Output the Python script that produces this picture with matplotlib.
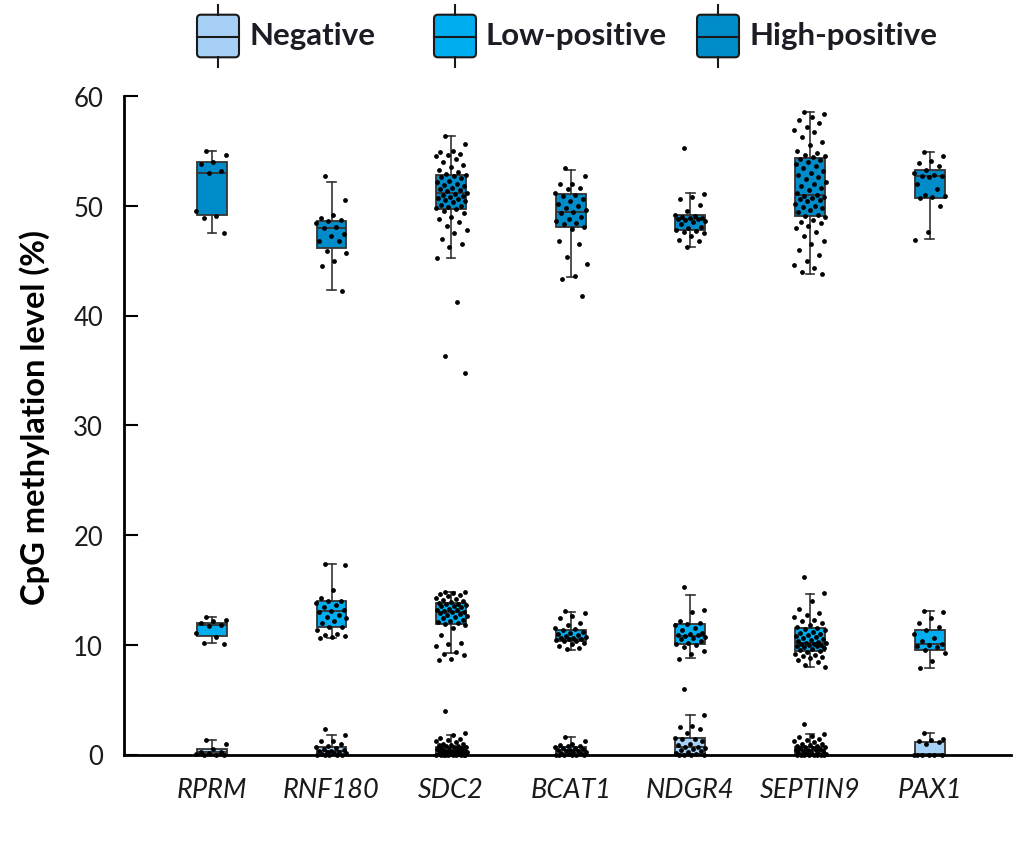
import matplotlib
matplotlib.use("Agg")
import matplotlib.pyplot as plt
from matplotlib.patches import FancyBboxPatch
import numpy as np

plt.rcParams['font.family'] = ['Lato', 'DejaVu Sans']

genes = ["RPRM", "RNF180", "SDC2", "BCAT1", "NDGR4", "SEPTIN9", "PAX1"]
groups = ["Negative", "Low-positive", "High-positive"]
colors = ["#A6D0F5", "#00AEEF", "#008CC8"]

# ---- box statistics (per gene) ----
neg_q1 = [0.05, 0.0, 0.0, 0.0, 0.05, 0.05, 0.0]
neg_med = [0.23, 0.35, 0.35, 0.44, 0.72, 0.38, 0.02]
neg_q3 = [0.5, 0.72, 0.65, 0.72, 1.47, 0.65, 1.1]
neg_lo = [0.0, 0.0, 0.0, 0.0, 0.0, 0.0, 0.0]
neg_hi = [1.35, 1.78, 1.75, 1.63, 3.6, 1.84, 2.0]

low_q1 = [10.83, 11.6, 11.9, 10.3, 10.1, 9.4, 9.5]
low_med = [11.8, 13.05, 12.96, 10.55, 10.78, 10.13, 10.04]
low_q3 = [11.99, 13.96, 13.78, 11.35, 11.87, 11.53, 11.38]
low_lo = [10.13, 10.6, 9.22, 9.52, 8.77, 8.0, 7.86]
low_hi = [12.53, 17.4, 14.78, 12.96, 14.54, 14.66, 13.08]

high_q1 = [49.2, 46.14, 49.73, 48.1, 47.75, 49.1, 50.7]
high_med = [53.0, 48.0, 51.16, 49.4, 48.76, 50.94, 52.7]
high_q3 = [54.0, 48.57, 52.77, 51.1, 49.18, 54.35, 53.3]
high_lo = [47.5, 42.3, 45.2, 43.5, 46.2, 43.8, 46.93]
high_hi = [54.95, 52.2, 56.4, 53.3, 51.2, 58.5, 54.9]

# ---- individual samples ----
RPRM_neg = [1.33, 0.93, 0.5, 0.25, 0.2, 0.1, 0.05, 0, 0, 0]
RPRM_low = [12.5, 12.3, 12.2, 11.95, 11.8, 11.7, 11.1, 10.75, 10.2, 10.1]
RPRM_high = [54.95, 54.65, 54.0, 53.8, 53.2, 53.0, 49.5, 49.1, 48.9, 47.5]

RNF180_neg = [2.3, 1.75, 1.2, 1.2, 0.95, 0.8, 0.7, 0.6, 0.5, 0.4, 0.35, 0.3,
              0.25, 0.2, 0.15, 0.1, 0.05, 0, 0, 0, 0, 0]
RNF180_low = [17.4, 17.3, 15.0, 14.3, 14.0, 13.95, 13.8, 13.6, 13.4, 13.2, 13.1,
              13.0, 12.7, 12.5, 12.4, 12.2, 12.0, 11.6, 11.6, 11.3, 11.0, 10.9,
              10.8, 10.7, 10.6]
RNF180_high = [52.7, 50.5, 49.2, 48.85, 48.7, 48.6, 48.4, 48.1, 48.0, 47.4, 47.2,
               46.8, 46.8, 45.9, 45.7, 45.0, 44.5, 42.2]

SDC2_neg = [3.94, 2.0, 1.75, 1.5, 1.4, 1.3, 1.2, 1.1, 1.0, 1.0, 0.9, 0.85, 0.8,
            0.75, 0.7, 0.65, 0.6, 0.55, 0.5, 0.5, 0.45, 0.4, 0.4, 0.35, 0.3, 0.3,
            0.25, 0.2, 0.2, 0.15, 0.1, 0.1, 0.05, 0.05, 0, 0, 0, 0, 0, 0, 0, 0,
            0, 0]
SDC2_low = [14.8, 14.8, 14.7, 14.6, 14.5, 14.4, 14.3, 14.2, 14.1, 14.0, 13.9,
            13.8, 13.7, 13.7, 13.6, 13.5, 13.5, 13.4, 13.3, 13.2, 13.2, 13.1,
            13.0, 13.0, 12.9, 12.8, 12.7, 12.6, 12.5, 12.4, 12.3, 12.2, 12.1,
            12.0, 11.9, 11.8, 11.5, 10.9, 10.2, 10.1, 9.9, 9.3, 9.2, 9.1, 8.7,
            8.65]
SDC2_high = [56.4, 55.6, 55.0, 54.9, 54.7, 54.6, 54.5, 54.3, 54.0, 53.7, 53.5,
             53.3, 53.1, 52.9, 52.8, 52.7, 52.6, 52.5, 52.3, 52.2, 52.0, 51.9,
             51.8, 51.6, 51.5, 51.4, 51.3, 51.2, 51.1, 51.0, 50.9, 50.8, 50.7,
             50.6, 50.5, 50.4, 50.3, 50.1, 50.0, 49.9, 49.8, 49.7, 49.5, 49.3,
             49.0, 48.8, 48.5, 48.2, 47.8, 47.5, 47.0, 46.5, 46.2, 45.2, 41.2,
             36.3, 34.8]

BCAT1_neg = [1.63, 1.2, 1.0, 0.9, 0.8, 0.75, 0.7, 0.6, 0.55, 0.5, 0.45, 0.4,
             0.35, 0.3, 0.25, 0.2, 0.15, 0.1, 0.05, 0, 0, 0, 0, 0, 0]
BCAT1_low = [13.1, 12.9, 12.6, 12.4, 12.0, 11.8, 11.5, 11.4, 11.3, 11.2, 11.1,
             11.0, 10.9, 10.8, 10.7, 10.65, 10.6, 10.5, 10.5, 10.4, 10.35, 10.3,
             10.2, 10.1, 9.9, 9.7, 9.6]
BCAT1_high = [53.4, 52.7, 52.0, 52.0, 51.6, 51.5, 51.2, 51.0, 50.9, 50.6, 50.4,
              50.2, 50.0, 49.8, 49.6, 49.4, 49.3, 49.0, 48.8, 48.6, 48.4, 48.3,
              48.1, 47.9, 46.8, 46.5, 45.3, 44.7, 43.6, 43.3, 41.8]

NDGR4_neg = [6.0, 3.6, 2.6, 2.5, 2.3, 2.0, 1.5, 1.45, 1.4, 1.2, 1.0, 0.9, 0.7,
             0.7, 0.6, 0.5, 0.4, 0.3, 0.2, 0.1, 0.05, 0, 0, 0, 0]
NDGR4_low = [15.3, 13.2, 13.0, 12.2, 12.0, 11.9, 11.8, 11.5, 11.3, 11.1, 11.0,
             10.9, 10.85, 10.8, 10.7, 10.6, 10.5, 10.3, 10.2, 10.1, 10.0, 9.8,
             9.4, 9.2, 8.7]
NDGR4_high = [55.3, 51.1, 50.8, 50.6, 50.1, 49.5, 49.2, 49.1, 49.0, 48.9, 48.85,
              48.8, 48.75, 48.7, 48.6, 48.5, 48.3, 48.1, 48.0, 47.8, 47.7, 47.6,
              47.5, 47.2, 46.9, 46.8, 46.2]

SEPTIN9_neg = [2.78, 1.84, 1.7, 1.6, 1.4, 1.3, 1.2, 1.1, 1.0, 0.95, 0.9, 0.8,
               0.75, 0.7, 0.65, 0.6, 0.55, 0.5, 0.45, 0.4, 0.38, 0.35, 0.3,
               0.25, 0.2, 0.15, 0.1, 0.05, 0, 0, 0, 0, 0, 0, 0, 0]
SEPTIN9_low = [16.2, 14.7, 14.0, 13.3, 12.9, 12.7, 12.5, 12.3, 12.2, 12.0, 11.8,
               11.6, 11.5, 11.4, 11.3, 11.2, 11.1, 11.0, 10.9, 10.8, 10.7, 10.6,
               10.5, 10.4, 10.3, 10.25, 10.2, 10.15, 10.1, 10.05, 10.0, 9.95,
               9.9, 9.85, 9.8, 9.7, 9.6, 9.5, 9.4, 9.3, 9.2, 9.1, 9.0, 8.9, 8.8,
               8.6, 8.4, 8.2, 8.0]
SEPTIN9_high = [58.5, 58.4, 58.1, 57.8, 57.5, 57.2, 56.9, 56.7, 56.3, 55.8, 55.5,
                55.0, 54.8, 54.6, 54.5, 54.4, 54.3, 54.2, 54.0, 53.8, 53.6, 53.4,
                53.2, 53.0, 52.8, 52.6, 52.4, 52.2, 52.0, 51.8, 51.6, 51.4, 51.2,
                51.0, 50.9, 50.8, 50.7, 50.6, 50.5, 50.4, 50.2, 50.0, 49.9, 49.8,
                49.6, 49.4, 49.2, 49.1, 49.0, 48.7, 48.5, 48.4, 48.2, 48.0, 47.6,
                47.2, 46.8, 46.5, 46.0, 45.5, 45.0, 44.6, 44.3, 44.0, 43.8]

PAX1_neg = [2.0, 1.4, 1.3, 1.25, 1.1, 1.0, 0, 0, 0, 0, 0, 0]
PAX1_low = [13.1, 13.0, 12.4, 12.0, 11.6, 11.3, 11.0, 10.6, 10.3, 10.1, 10.0,
            9.9, 9.8, 9.5, 9.25, 8.5, 7.85]
PAX1_high = [54.9, 54.5, 54.1, 53.9, 53.6, 53.3, 53.0, 52.8, 52.7, 52.7, 52.6,
             52.0, 51.5, 51.0, 50.9, 50.8, 50.7, 50.0, 47.6, 46.9]

samples = {
    "Negative": [RPRM_neg, RNF180_neg, SDC2_neg, BCAT1_neg, NDGR4_neg, SEPTIN9_neg, PAX1_neg],
    "Low-positive": [RPRM_low, RNF180_low, SDC2_low, BCAT1_low, NDGR4_low, SEPTIN9_low, PAX1_low],
    "High-positive": [RPRM_high, RNF180_high, SDC2_high, BCAT1_high, NDGR4_high, SEPTIN9_high, PAX1_high],
}
stats_src = {
    "Negative": (neg_q1, neg_med, neg_q3, neg_lo, neg_hi),
    "Low-positive": (low_q1, low_med, low_q3, low_lo, low_hi),
    "High-positive": (high_q1, high_med, high_q3, high_lo, high_hi),
}

W, H = 1035, 862
fig = plt.figure(figsize=(W / 100, H / 100), dpi=100)
ax = fig.add_axes([124 / W, 1 - 755.5 / H, (1011 - 124) / W, (755.5 - 97) / H])

positions = np.arange(len(genes))
edge = "#333333"
for g, col in zip(groups, colors):
    q1, med, q3, lo, hi = stats_src[g]
    st = [dict(q1=a, med=b, q3=c, whislo=d, whishi=e, fliers=[])
          for a, b, c, d, e in zip(q1, med, q3, lo, hi)]
    ax.bxp(st, positions=positions, widths=0.25, capwidths=0.07,
           patch_artist=True, showfliers=False, manage_ticks=False,
           boxprops=dict(facecolor=col, edgecolor=edge, linewidth=1.3),
           medianprops=dict(color=edge, linewidth=1.3),
           whiskerprops=dict(color=edge, linewidth=1.2),
           capprops=dict(color=edge, linewidth=1.2), zorder=2)
    for i, vals in enumerate(samples[g]):
        n = len(vals)
        offs = ((np.arange(n) * 0.6180339887 + 0.31) % 1 - 0.5) * 0.27
        ax.scatter(positions[i] + offs, vals, s=12, color="black", zorder=3,
                   linewidths=0, clip_on=False)

ax.set_xlim(-0.735, 6.68)
ax.set_ylim(0, 60)
ax.set_yticks([0, 10, 20, 30, 40, 50, 60])
ax.set_xticks(positions)
ax.set_xticklabels(genes, fontstyle="italic", fontsize=19.5, color="#1a1a1a")
ax.tick_params(axis="x", length=0, pad=16)
ax.tick_params(axis="y", direction="in", length=10, width=1.5, pad=15,
               labelsize=18.5, labelcolor="#1a1a1a")
for s in ["top", "right"]:
    ax.spines[s].set_visible(False)
for s in ["left", "bottom"]:
    ax.spines[s].set_linewidth(2)
ax.set_ylabel("CpG methylation level (%)", fontsize=23.5, fontweight="bold")
ax.yaxis.set_label_coords(-0.083, 0.514)

# ---- legend drawn in pixel coordinates ----
ov = fig.add_axes([0, 0, 1, 1])
ov.set_xlim(0, W)
ov.set_ylim(H, 0)
ov.axis("off")
icon_left = [197, 434, 697]
for x0, g, col in zip(icon_left, groups, colors):
    box = FancyBboxPatch((x0, 15.7), 42, 42.6,
                         boxstyle="round,pad=0,rounding_size=4",
                         facecolor=col, edgecolor="#1a1a1a", linewidth=1.5)
    ov.add_patch(box)
    cx = x0 + 21
    ov.plot([x0, x0 + 42], [37.5, 37.5], color="#1a1a1a", lw=1.5)
    ov.plot([cx, cx], [6, 15.7], color="#1a1a1a", lw=1.5)
    ov.plot([cx, cx], [58.3, 68], color="#1a1a1a", lw=1.5)
    ov.text(x0 + 52, 36, g, fontsize=22.5, fontweight="bold", color="#1c1c24",
            va="center", ha="left")

fig.savefig("out.png", dpi=100)
